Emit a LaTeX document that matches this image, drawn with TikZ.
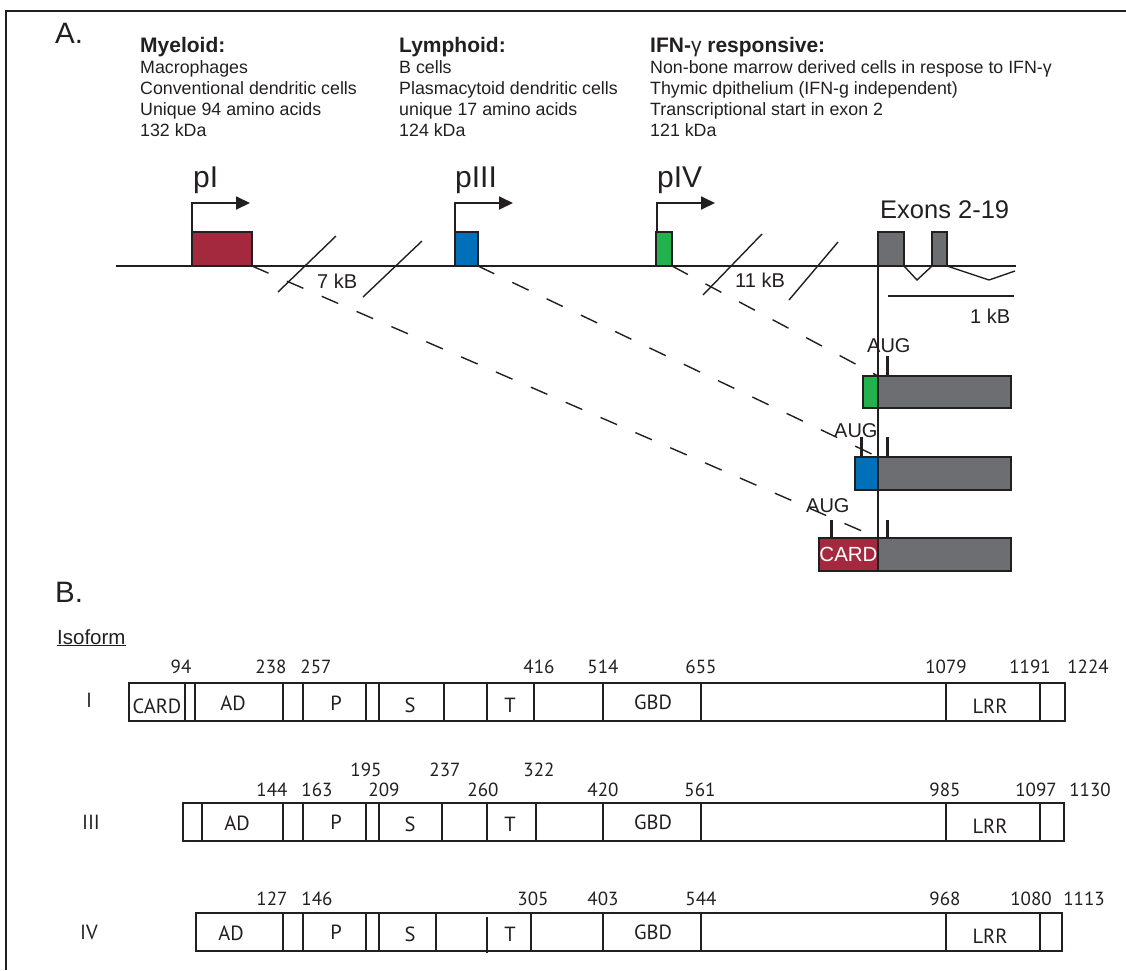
\documentclass[tikz,border=0pt]{standalone}
\usepackage{fontspec}
\setmainfont{Liberation Sans}
\newfontfamily\myr{PT Sans}
\usetikzlibrary{arrows.meta}
\definecolor{ink}{RGB}{35,31,32}
\definecolor{cardred}{RGB}{164,41,63}
\definecolor{pblue}{RGB}{0,112,186}
\definecolor{pgreen}{RGB}{34,177,76}
\definecolor{exgray}{RGB}{109,110,113}
\tikzset{
  txt/.style={anchor=base west, inner sep=0pt, text=ink},
  head/.style={txt, font=\fontsize{21}{24}\selectfont\bfseries},
  body/.style={txt, font=\fontsize{17.8}{21}\selectfont},
  big/.style={txt, font=\fontsize{29.5}{30}\selectfont},
  prom/.style={txt, font=\fontsize{30}{30}\selectfont},
  mid/.style={txt, font=\fontsize{20}{20}\selectfont},
  gbox/.style={draw=ink, line width=1.6pt, inner sep=0pt, outer sep=0pt, anchor=north west},
  genline/.style={draw=ink, line width=1.8pt},
  thin/.style={draw=ink, line width=1.4pt},
  parrow/.style={draw=ink, line width=1.8pt, -{Triangle[length=14pt,width=13pt]}},
  dashline/.style={draw=ink, line width=1.4pt, dash pattern=on 18pt off 20pt},
  tickmark/.style={draw=ink, line width=3pt},
  pbox/.style={draw=ink, line width=1.8pt},
  pdiv/.style={draw=ink, line width=1.4pt},
  num/.style={anchor=base, inner sep=0pt, text=ink, font=\myr\fontsize{19}{19}\selectfont},
  dom/.style={anchor=center, inner sep=0pt, text=ink, font=\myr\fontsize{20.5}{20.5}\selectfont},
}
\begin{document}
\begin{tikzpicture}[x=1pt,y=-1pt]
\useasboundingbox (0,0) rectangle (1126,970);
% frame
\draw[ink, line width=2.2pt] (6,970) -- (6,11) -- (1126,11);

% ---------- Part A ----------
\node[big] (labA) at (55,43) {A.};
\node[head] (hmy) at (140,52) {Myeloid:};
\node[head] (hly) at (399,52) {Lymphoid:};
\node[head] (hifn) at (650,52) {IFN-{\normalfont γ} responsive:};
\foreach \t [count=\i] in {Macrophages,Conventional dendritic cells,Unique 94 amino acids,132 kDa}
  \node[body] (my\i) at (140,{73+21*(\i-1)}) {\t};
\foreach \t [count=\i] in {B cells,Plasmacytoid dendritic cells,unique 17 amino acids,124 kDa}
  \node[body] (ly\i) at (399,{73+21*(\i-1)}) {\t};
\foreach \t [count=\i] in {Non-bone marrow derived cells in respose to IFN-γ,Thymic dpithelium (IFN-g independent),Transcriptional start in exon 2,121 kDa}
  \node[body] (ifn\i) at (650,{73+21*(\i-1)}) {\t};

\node[prom] (lpI) at (193,187) {pI};
\node[prom] (lpIII) at (455,187) {pIII};
\node[prom] (lpIV) at (657,187) {pIV};
\node[txt, font=\fontsize{25.5}{25.5}\selectfont] (lex) at (880,218) {Exons 2-19};

% genomic line
\coordinate (gL) at (116,266);
\coordinate (gR) at (1016,266);
\draw[genline] (gL) -- (gR);

% promoter exons
\node[gbox, fill=cardred, minimum width=60pt, minimum height=34pt] (pIbox) at (192,232) {};
\node[gbox, fill=pblue, minimum width=23pt, minimum height=34pt] (pIIIbox) at (455,232) {};
\node[gbox, fill=pgreen, minimum width=16pt, minimum height=34pt] (pIVbox) at (656,232) {};
\node[gbox, fill=exgray, minimum width=26pt, minimum height=34pt] (ex1) at (878,232) {};
\node[gbox, fill=exgray, minimum width=15pt, minimum height=34pt] (ex2) at (932,232) {};

% promoter arrows
\draw[parrow] (pIbox.north west) -- ++(0,-29) -- ++(58,0);
\draw[parrow] (pIIIbox.north west) -- ++(0,-29) -- ++(58,0);
\draw[parrow] ([xshift=1pt]pIVbox.north west) -- ++(0,-29) -- ++(58,0);

% introns
\coordinate (v1) at (917,280);
\coordinate (v2) at (989,280);
\coordinate (v3) at (1015,271);
\draw[thin] (ex1.south east) -- (v1) -- (ex2.south west);
\draw[thin] (ex2.south east) -- (v2) -- (v3);

% scale bar
\coordinate (sb1) at (888,296);
\coordinate (sb2) at (1014,296);
\draw[thin] (sb1) -- (sb2);
\node[mid] (l1kb) at (970,323) {1 kB};

% breaks
\draw[thin] (278,292) -- (336,236);
\draw[thin] (363,297) -- (422,241);
\node[mid] (l7kb) at (317,288) {7 kB};
\draw[thin] (703,295) -- (762,234);
\draw[thin] (789,300) -- (838,242);
\node[mid] (l11kb) at (735,287) {11 kB};

% transcripts
\node[gbox, fill=pgreen, minimum width=15pt, minimum height=32pt] (t4a) at (863,376) {};
\node[gbox, fill=exgray, minimum width=133pt, minimum height=32pt] (t4b) at (878,376) {};
\node[gbox, fill=pblue, minimum width=23pt, minimum height=33pt] (t3a) at (855,457) {};
\node[gbox, fill=exgray, minimum width=133pt, minimum height=33pt] (t3b) at (878,457) {};
\node[gbox, fill=cardred, minimum width=59pt, minimum height=33pt, text=white,
      font=\fontsize{20.5}{20.5}\selectfont] (t1a) at (819,538) {CARD};
\node[gbox, fill=exgray, minimum width=133pt, minimum height=33pt] (t1b) at (878,538) {};

% vertical alignment line
\draw[thin] (ex1.south west) -- (t1b.south west);

% dashed splice connectors
\draw[dashline] (pIbox.south east) -- (t1a.north east);
\draw[dashline] (pIIIbox.south east) -- (t3a.north east);
\draw[dashline] (pIVbox.south east) -- (t4a.north east);

% AUG ticks and labels
\draw[tickmark] ([xshift=9pt]t4b.north west) -- ++(0,-20);
\draw[tickmark] ([xshift=9pt]t3b.north west) -- ++(0,-20);
\draw[tickmark] ([xshift=6pt]t3a.north west) -- ++(0,-20);
\draw[tickmark] ([xshift=9pt]t1b.north west) -- ++(0,-18);
\draw[tickmark] ([xshift=12pt]t1a.north west) -- ++(0,-18);
\node[mid] (aug4) at (867,352) {AUG};
\node[mid] (aug3) at (834,437) {AUG};
\node[mid] (aug1) at (806,512) {AUG};

% ---------- Part B ----------
\node[big] (labB) at (55,602) {B.};
\node[txt, font=\fontsize{20.5}{20.5}\selectfont] (liso) at (57,644) {\underline{Isoform}};

% Isoform I
\node[dom] (nI) at (89,700) {I};
\draw[pbox] (129,683) rectangle (1065,721);
\foreach \x in {185,195,283,303,366,379,444,487,534,603,701,946,1040}
  \draw[pdiv] (\x,683) -- (\x,721);
\node[dom] (dIcard) at (157,706) {CARD};
\node[dom] (dIad) at (233,703) {AD};
\node[dom] (dIp) at (336,703) {P};
\node[dom] (dIs) at (410,705) {S};
\node[dom] (dIt) at (510,705) {T};
\node[dom] (dIg) at (653,702) {GBD};
\node[dom] (dIl) at (990,706) {LRR};
\foreach \v/\x [count=\i] in {94/181,238/271,257/316,416/539,514/603,655/701,1079/946,1191/1030,1224/1088}
  \node[num] (nI\i) at (\x,673) {\v};

% Isoform III
\node[dom] (nIII) at (91,822) {III};
\draw[pbox] (183,803) rectangle (1064,841);
\foreach \x in {202,283,303,366,379,442,487,536,603,701,946,1040}
  \draw[pdiv] (\x,803) -- (\x,841);
\node[dom] (dIIIad) at (237,823) {AD};
\node[dom] (dIIIp) at (336,822) {P};
\node[dom] (dIIIs) at (410,824) {S};
\node[dom] (dIIIt) at (510,824) {T};
\node[dom] (dIIIg) at (653,822) {GBD};
\node[dom] (dIIIl) at (990,826) {LRR};
\foreach \v/\x [count=\i] in {195/366,237/445,322/539}
  \node[num] (nIIIa\i) at (\x,776) {\v};
\foreach \v/\x [count=\i] in {144/272,163/317,209/384,260/483,420/603,561/700,985/945,1097/1036,1130/1090}
  \node[num] (nIIIb\i) at (\x,796) {\v};

% Isoform IV
\node[dom] (nIV) at (89,932) {IV};
\draw[pbox] (196,913) rectangle (1062,951);
\foreach \x in {283,303,366,379,436,531,603,701,946,1040}
  \draw[pdiv] (\x,913) -- (\x,951);
\draw[pdiv] (487,917) -- (487,953);
\node[dom] (dIVad) at (231,933) {AD};
\node[dom] (dIVp) at (336,932) {P};
\node[dom] (dIVs) at (410,934) {S};
\node[dom] (dIVt) at (510,934) {T};
\node[dom] (dIVg) at (653,932) {GBD};
\node[dom] (dIVl) at (990,936) {LRR};
\foreach \v/\x [count=\i] in {127/272,146/317,305/533,403/603,544/701,968/945,1080/1031,1113/1084}
  \node[num] (nIV\i) at (\x,905) {\v};
\end{tikzpicture}
\end{document}
